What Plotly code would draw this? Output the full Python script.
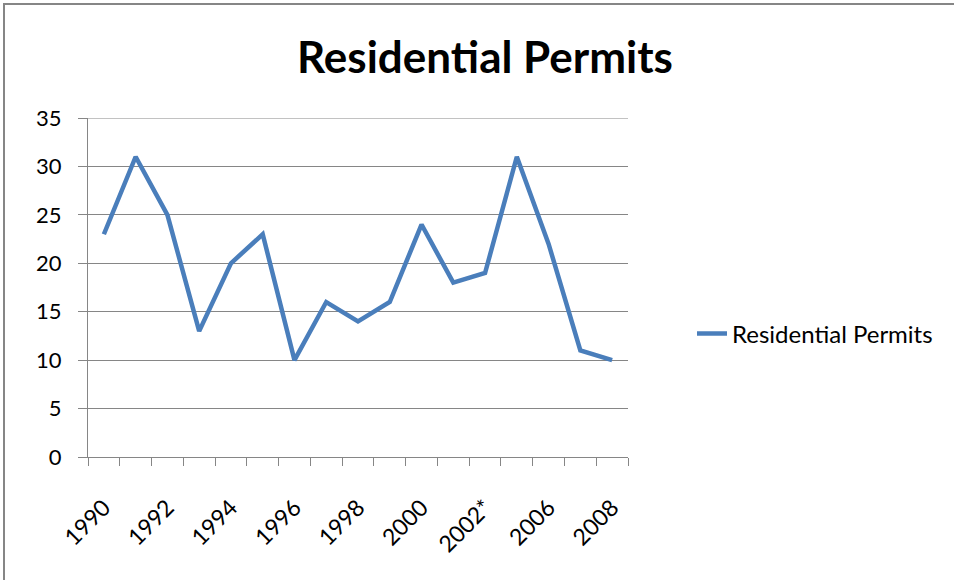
import plotly.graph_objects as go

categories = ["1990", "1991", "1992", "1993", "1994", "1995", "1996", "1997", "1998",
              "1999", "2000", "2001", "2002*", "2005", "2006", "2007", "2008"]
permits = [23, 31, 25, 13, 20, 23, 10, 16, 14, 16, 24, 18, 19, 31, 22, 11, 10]
y_ticks = [0, 5, 10, 15, 20, 25, 30, 35]
series_name = "Residential Permits"
title_text = "Residential Permits"

FONT = "Lato"
GRAY = "#868686"

fig = go.Figure()
fig.add_trace(go.Scatter(
    x=categories, y=permits, mode="lines", name=series_name,
    line=dict(color="#4A7EBB", width=4.5),
))

W, H = 954, 580
L, R, T, B = 88, 628, 118, 457

fig.update_layout(
    width=W, height=H,
    margin=dict(l=L, r=W - R, t=T, b=H - B, autoexpand=False),
    paper_bgcolor="white", plot_bgcolor="white",
    font=dict(family=FONT, color="#000000"),
    title=dict(text="<b>" + title_text + "</b>", x=485 / W, xanchor="center",
               y=1 - 58 / H, yanchor="middle",
               font=dict(family=FONT, size=44, color="#000000")),
    showlegend=True,
    legend=dict(x=(692 - L) / (R - L), xanchor="left", y=(B - 334) / (B - T), yanchor="middle",
                font=dict(family=FONT, size=24, color="#000000"),
                bgcolor="rgba(0,0,0,0)", itemwidth=30),
    xaxis=dict(type="category", range=[-0.5, len(categories) - 0.5],
               tickson="boundaries", ticks="outside", ticklen=8,
               tickcolor=GRAY, tickwidth=1, ticklabelstep=2, tickangle=-45,
               ticklabelstandoff=27,
               showline=True, linecolor=GRAY, linewidth=1, showgrid=False,
               tickfont=dict(family=FONT, size=23, color="#000000"), zeroline=False),
    yaxis=dict(range=[min(y_ticks), max(y_ticks)], tickvals=y_ticks,
               ticks="outside", ticklen=9, tickcolor=GRAY,
               ticklabelstandoff=12,
               showline=True, linecolor=GRAY, linewidth=1,
               showgrid=True, gridcolor=GRAY, gridwidth=1, zeroline=False,
               tickfont=dict(family=FONT, size=22, color="#000000")),
    shapes=[
        dict(type="rect", xref="paper", yref="paper",
             x0=(4 - L) / (R - L), x1=(W + 10 - L) / (R - L),
             y0=(B - 4) / (B - T), y1=(B - H - 10) / (B - T),
             line=dict(color=GRAY, width=2), fillcolor="rgba(0,0,0,0)", layer="below"),
        dict(type="line", xref="paper", yref="y", x0=0, x1=1,
             y0=max(y_ticks), y1=max(y_ticks),
             line=dict(color=GRAY, width=1), layer="below"),
    ],
)

fig.write_html("out.html", config={"displayModeBar": False},
               post_script="document.body.style.margin='0px';")
